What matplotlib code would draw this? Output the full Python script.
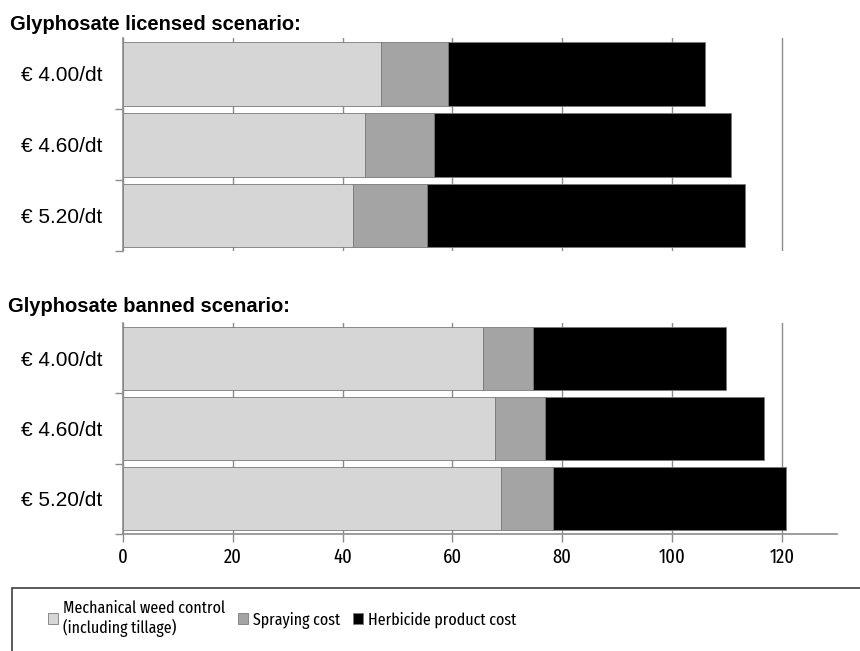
import numpy as np
import matplotlib.pyplot as plt
from matplotlib.patches import Rectangle

# costs per price level (EUR/ha), read top to bottom
prices = ["€ 4.00/dt", "€ 4.60/dt", "€ 5.20/dt"]

lic_mech = [47.0, 44.1, 41.9]
lic_spray = [12.2, 12.5, 13.5]
lic_herb = [46.8, 54.1, 57.9]

ban_mech = [65.6, 67.7, 68.9]
ban_spray = [9.0, 9.2, 9.5]
ban_herb = [35.2, 39.9, 42.4]

series_names = ["Mechanical weed control\n(including tillage)", "Spraying cost",
                "Herbicide product cost"]
colors = ["#d6d6d6", "#a4a4a4", "#000000"]
xticks = [0, 20, 40, 60, 80, 100, 120]

plt.rcParams['font.family'] = ['Liberation Sans', 'DejaVu Sans']
narrow = ['Fira Sans Extra Condensed', 'Liberation Sans']
axis_gray = "#8c8c8c"

fig = plt.figure(figsize=(8.6, 6.51), dpi=100)
ax_top = fig.add_axes([0.143, 0.6144, 0.830, 0.327])
ax_bot = fig.add_axes([0.143, 0.1797, 0.830, 0.324])


def draw_panel(ax, mech, spray, herb, show_x):
    y = np.arange(len(prices))
    left = np.zeros(len(prices))
    handles = []
    for vals, col in zip([mech, spray, herb], colors):
        h = ax.barh(y, vals, left=left, height=0.9, color=col,
                    edgecolor="#7a7a7a", linewidth=0.6, zorder=2)
        handles.append(h)
        left = left + np.array(vals)
    ax.set_ylim(2.5, -0.5)
    ax.set_xlim(0, 130)
    ax.set_yticks(y)
    ax.set_yticklabels(prices, fontsize=15)
    ax.set_yticks(np.arange(len(prices)) + 0.5, minor=True)
    ax.tick_params(axis="y", which="major", length=0, pad=15)
    ax.tick_params(axis="y", which="minor", length=6, color=axis_gray, width=1)
    ax.set_xticks(xticks)
    ax.xaxis.grid(True, color=axis_gray, linewidth=1, zorder=0)
    ax.set_axisbelow(True)
    for s in ["top", "right"]:
        ax.spines[s].set_visible(False)
    ax.spines["left"].set_color(axis_gray)
    ax.spines["left"].set_linewidth(1.2)
    if show_x:
        ax.spines["bottom"].set_color(axis_gray)
        ax.spines["bottom"].set_linewidth(1.2)
        ax.tick_params(axis="x", length=6, color=axis_gray, width=1, pad=4)
        for lab in ax.get_xticklabels():
            lab.set_family(narrow)
            lab.set_fontsize(14.5)
    else:
        ax.spines["bottom"].set_visible(False)
        ax.tick_params(axis="x", length=0, labelbottom=False)
    return handles


handles = draw_panel(ax_top, lic_mech, lic_spray, lic_herb, False)
draw_panel(ax_bot, ban_mech, ban_spray, ban_herb, True)

fig.text(10 / 860, 1 - 24 / 651, "Glyphosate licensed scenario:",
         fontsize=14.5, fontweight="bold", va="center", ha="left")
fig.text(8 / 860, 1 - 307 / 651, "Glyphosate banned scenario:",
         fontsize=14.5, fontweight="bold", va="center", ha="left")

# legend box running off the bottom right corner
fig.patches.append(Rectangle((12 / 860, -0.02), 1.0, 0.02 + 63 / 651,
                             transform=fig.transFigure, fill=False,
                             edgecolor="#404040", linewidth=1.2))
fig.legend(handles, series_names, loc="upper left",
           bbox_to_anchor=(48 / 860, 1 - 600 / 651), ncol=3, frameon=False,
           prop={"family": narrow, "size": 12.5},
           handlelength=0.6, handleheight=0.6, handletextpad=0.25,
           columnspacing=0.75, borderpad=0, borderaxespad=0)

fig.savefig("out.png", dpi=100)
